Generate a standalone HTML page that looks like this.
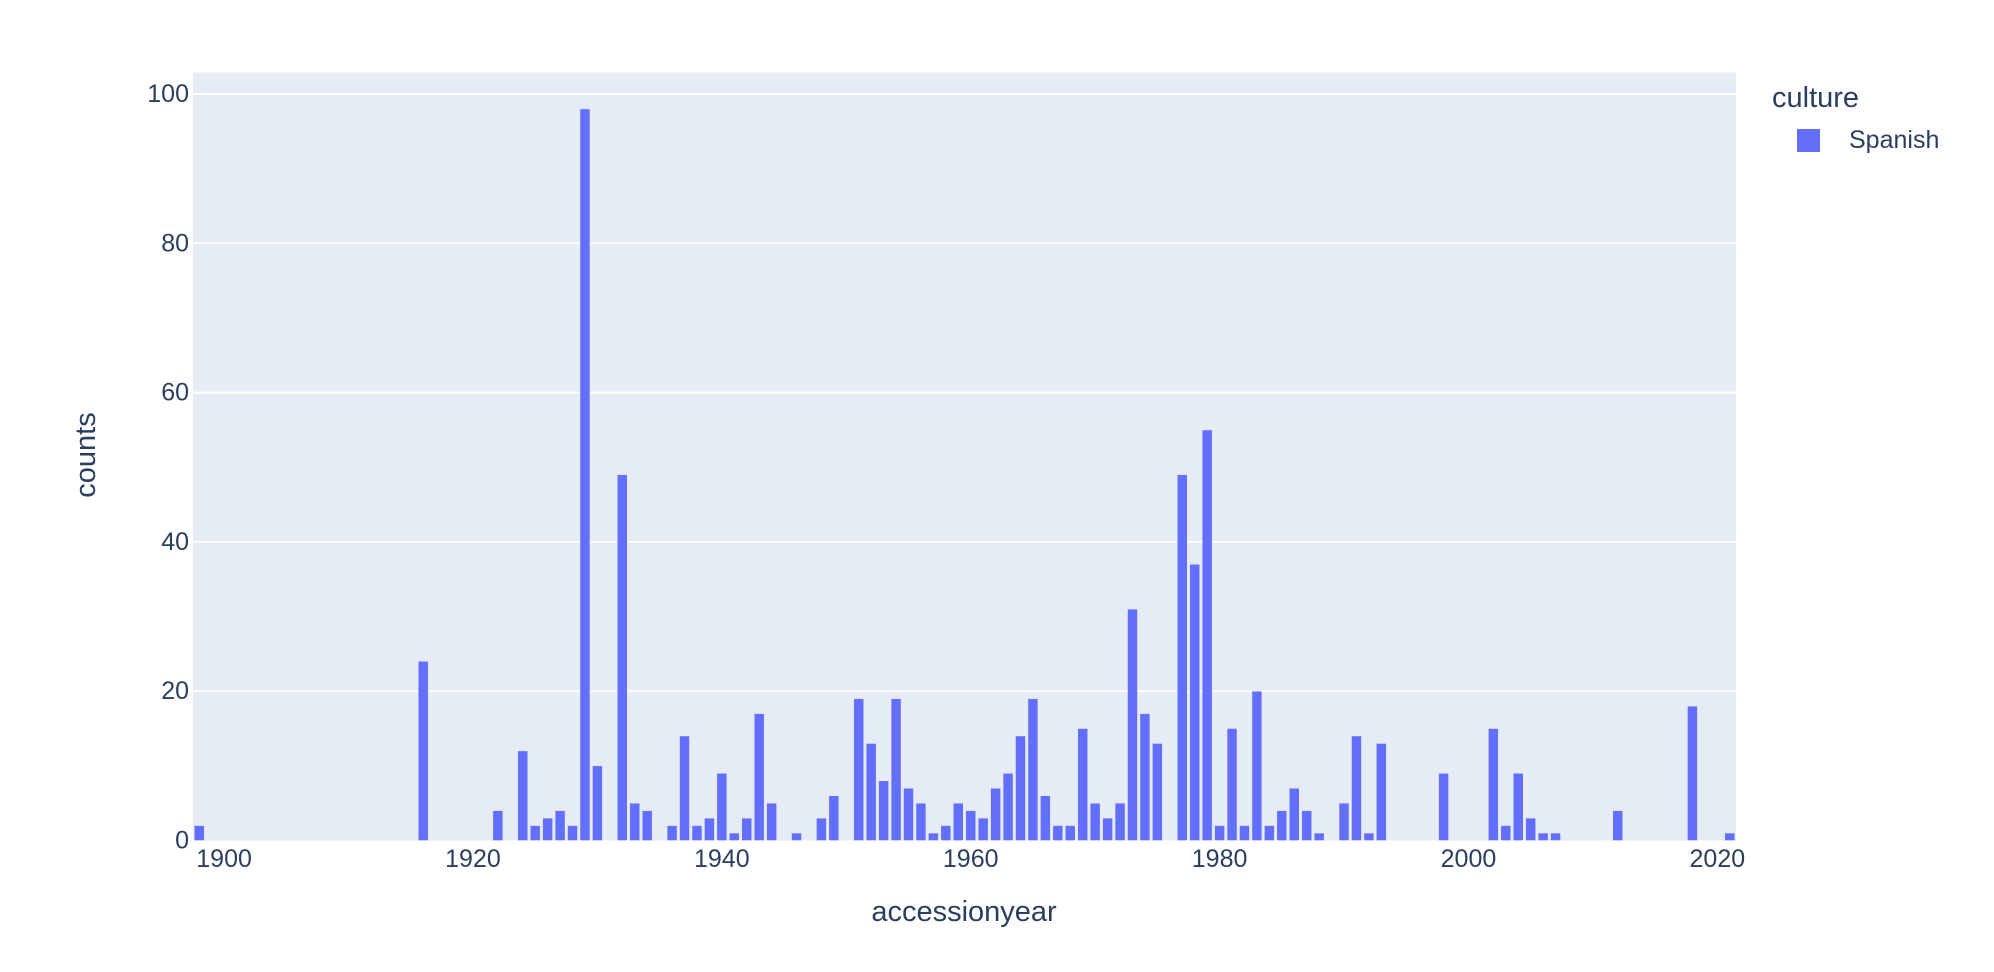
<!DOCTYPE html>
<html><head><meta charset="utf-8"><style>
html,body{margin:0;padding:0;background:#fff;}
svg{display:block;font-family:"Liberation Sans",Arial,sans-serif;}
</style></head><body>
<svg id="chart" width="1994" height="972" xmlns="http://www.w3.org/2000/svg">
<rect x="193" y="72.5" width="1543" height="768" fill="#E5ECF6"/>
<g id="grid"></g>
<g id="bars"></g>
<g id="yticks"></g>
<g id="xticks"></g>
<text x="86" y="455" transform="rotate(-90 86 455)" text-anchor="middle" dominant-baseline="central" font-size="29" fill="#2a3f5f">counts</text>
<text x="964" y="912" text-anchor="middle" dominant-baseline="central" font-size="29" fill="#2a3f5f">accessionyear</text>
<g>
<text x="1772" y="98" dominant-baseline="central" font-size="29" fill="#2a3f5f">culture</text>
<g>
<rect x="1797" y="129" width="23" height="23" fill="#636EFA"/>
<text x="1849" y="140" dominant-baseline="central" font-size="25" fill="#2a3f5f">Spanish</text>
</g></g>
</svg>
<script>
const years = [1898,1916,1922,1924,1925,1926,1927,1928,1929,1930,1932,1933,1934,1936,1937,1938,1939,1940,1941,1942,1943,1944,1946,1948,1949,1951,1952,1953,1954,1955,1956,1957,1958,1959,1960,1961,1962,1963,1964,1965,1966,1967,1968,1969,1970,1971,1972,1973,1974,1975,1977,1978,1979,1980,1981,1982,1983,1984,1985,1986,1987,1988,1990,1991,1992,1993,1998,2002,2003,2004,2005,2006,2007,2012,2018,2021];
const counts = [2,24,4,12,2,3,4,2,98,10,49,5,4,2,14,2,3,9,1,3,17,5,1,3,6,19,13,8,19,7,5,1,2,5,4,3,7,9,14,19,6,2,2,15,5,3,5,31,17,13,49,37,55,2,15,2,20,2,4,7,4,1,5,14,1,13,9,15,2,9,3,1,1,4,18,1];
const yTicks = [0,20,40,60,80,100];
const xTicks = [1900,1920,1940,1960,1980,2000,2020];

const NS = "http://www.w3.org/2000/svg";
const X0 = 193, X1 = 1736, XMIN = 1897.5, XMAX = 2021.5;
const Y0 = 840.5, YPER = 7.465;
function xs(v){ return X0 + (v - XMIN) / (XMAX - XMIN) * (X1 - X0); }
function ys(v){ return Y0 - v * YPER; }
function mk(tag, attrs, parent){
  const e = document.createElementNS(NS, tag);
  for (const k in attrs) e.setAttribute(k, attrs[k]);
  parent.appendChild(e);
  return e;
}
const grid = document.getElementById('grid');
const yt = document.getElementById('yticks');
yTicks.forEach(v => {
  if (v > 0) {
    const l = mk('line', {x1: X0, x2: X1, y1: ys(v), y2: ys(v), stroke: '#fff', 'stroke-width': 2}, grid);
    
    
  }
  const t = mk('text', {x: 189, y: ys(v), 'text-anchor': 'end', 'dominant-baseline': 'central', 'font-size': 25, fill: '#2a3f5f'}, yt);
  t.textContent = v;
  
  
});
const xt = document.getElementById('xticks');
xTicks.forEach(v => {
  const t = mk('text', {x: xs(v), y: 859, 'text-anchor': 'middle', 'dominant-baseline': 'central', 'font-size': 25, fill: '#2a3f5f'}, xt);
  t.textContent = v;
  
  
});
const bars = document.getElementById('bars');
const bw = (X1 - X0) / (XMAX - XMIN) * 0.8;
years.forEach((yr, i) => {
  const c = counts[i];
  const r = mk('rect', {x: xs(yr) - bw/2, y: ys(c), width: bw, height: c * YPER, fill: '#636EFA', stroke: '#E5ECF6', 'stroke-width': 0.5}, bars);
  
  
});
</script>
</body></html>
